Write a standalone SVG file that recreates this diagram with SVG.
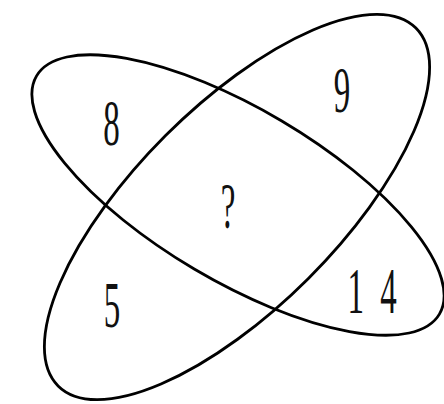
<svg xmlns="http://www.w3.org/2000/svg" width="444" height="404" viewBox="0 0 444 404">
<style>
.e{fill:none;stroke:#000;stroke-width:2.8}
.t{font-family:"Liberation Serif",serif;font-size:66px;fill:#111;text-anchor:middle}
</style>
<rect width="444" height="404" fill="#fff"/>
<g id="connectors">
<ellipse id="ellipseA" class="e" cx="238" cy="195" rx="234" ry="86" transform="rotate(30.6 238 195)"/>
<ellipse id="ellipseB" class="e" cx="237" cy="207" rx="253" ry="101" transform="rotate(-45 237 207)"/>
</g>
<g id="n8"><text class="t" transform="translate(111.5,145) scale(0.5,1)">8</text></g>
<g id="n9"><text class="t" transform="translate(342,112) scale(0.5,1)">9</text></g>
<g id="nq"><text class="t" transform="translate(228,228) scale(0.5,1)">?</text></g>
<g id="n5"><text class="t" transform="translate(112,327) scale(0.5,1)">5</text></g>
<g id="n14"><text class="t" transform="translate(374,313) scale(0.5,1)" letter-spacing="8">1 4</text></g>
</svg>
